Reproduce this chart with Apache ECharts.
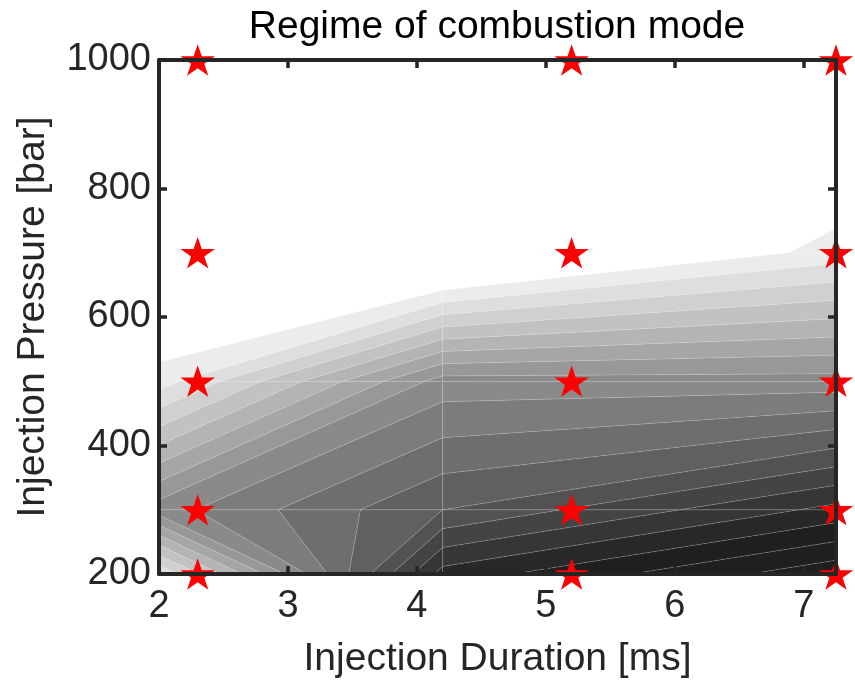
<!DOCTYPE html>
<html>
<head>
<meta charset="utf-8">
<script src="https://cdn.jsdelivr.net/npm/echarts@6/dist/echarts.min.js"></script>
<style>
html,body{margin:0;padding:0;background:#ffffff;}
#chart{width:855px;height:695px;}
</style>
</head>
<body>
<div id="chart"></div>
<script>
// ---- contour grid (injection duration [ms] x injection pressure [bar]) ----
const durationGrid = [2, 4.2, 7.25];
const pressureGrid = [200, 300, 500, 700, 1000];
// regime value at each grid node, one row per pressure
const regimeAt200  = [1.1, 14.4, 17.73];
const regimeAt300  = [7.55, 11.0, 14.31];
const regimeAt500  = [0.5, 7.43, 7.41];
const regimeAt700  = [-2.87, -3.05, 0.41];
const regimeAt1000 = [-6.0, -6.0, -2.8];
// contour levels
const contourLevels = [0, 1, 2, 3, 4, 5, 6, 7, 8, 9, 10, 11, 12, 13, 14, 15, 16, 17];
// fill gray per band (band k lies between level k and level k+1)
const bandGrays = ['#ececec', '#dedede', '#d0d0d0', '#c2c2c2', '#b4b4b4', '#a6a6a6',
                   '#989898', '#8a8a8a', '#7c7c7c', '#6e6e6e', '#606060', '#525252',
                   '#444444', '#363636', '#282828', '#1f1f1f', '#1f1f1f', '#1f1f1f'];
// measured operating points (stars)
const starDurations = [2.3, 5.2, 7.25];
const starPressures = [200, 300, 500, 700, 1000];

const titleText = 'Regime of combustion mode';
const xName = 'Injection Duration [ms]';
const yName = 'Injection Pressure [bar]';

// ---- build filled-contour polygons from the grid ----
const regimeGrid = [regimeAt200, regimeAt300, regimeAt500, regimeAt700, regimeAt1000];

function clipPoly(poly, lev, keepAbove) {
  const out = [];
  for (let i = 0; i < poly.length; i++) {
    const a = poly[i], b = poly[(i + 1) % poly.length];
    const ina = keepAbove ? a[2] >= lev : a[2] <= lev;
    const inb = keepAbove ? b[2] >= lev : b[2] <= lev;
    if (ina) out.push(a);
    if (ina !== inb) {
      const t = (lev - a[2]) / (b[2] - a[2]);
      out.push([a[0] + t * (b[0] - a[0]), a[1] + t * (b[1] - a[1]), lev]);
    }
  }
  return out;
}

const polygons = [];
for (let j = 0; j < pressureGrid.length - 1; j++) {
  for (let i = 0; i < durationGrid.length - 1; i++) {
    const quad = [
      [durationGrid[i],     pressureGrid[j],     regimeGrid[j][i]],
      [durationGrid[i + 1], pressureGrid[j],     regimeGrid[j][i + 1]],
      [durationGrid[i + 1], pressureGrid[j + 1], regimeGrid[j + 1][i + 1]],
      [durationGrid[i],     pressureGrid[j + 1], regimeGrid[j + 1][i]]
    ];
    for (let k = 0; k < contourLevels.length; k++) {
      let p = clipPoly(quad, contourLevels[k], true);
      if (k + 1 < contourLevels.length && p.length) p = clipPoly(p, contourLevels[k + 1], false);
      if (p.length >= 3) polygons.push({ pts: p, color: bandGrays[k] });
    }
  }
}

const starData = [];
starDurations.forEach(d => starPressures.forEach(p => starData.push([d, p])));

const starPath = 'path://M50 0 L61.23 34.55 L97.55 34.55 L68.16 55.9 L79.39 90.45 L50 69.1 L20.61 90.45 L31.84 55.9 L2.45 34.55 L38.77 34.55 Z';

const font = '"Liberation Sans", Arial, Helvetica, sans-serif';
const ink = '#262626';

const axisCommon = {
  type: 'value',
  z: 10,
  axisLine: { show: true, onZero: false, lineStyle: { color: ink, width: 4 } },
  axisTick: { show: true, inside: true, length: 8, lineStyle: { color: ink, width: 3.5 } },
  splitLine: { show: false }
};

const chart = echarts.init(document.getElementById('chart'), null, { renderer: 'canvas' });
chart.setOption({
  backgroundColor: '#ffffff',
  animation: false,
  title: {
    text: titleText,
    left: 497, top: 8, padding: 0,
    textAlign: 'center',
    textStyle: { fontFamily: font, fontSize: 39, fontWeight: 'normal', color: '#000000' }
  },
  grid: { left: 159, right: 19, top: 60, bottom: 121, containLabel: false },
  xAxis: [
    Object.assign({}, axisCommon, {
      position: 'bottom', min: 2, max: 7.25, interval: 1,
      axisLabel: { show: true, showMaxLabel: false, margin: 14, fontSize: 38, color: ink, fontFamily: font,
                   formatter: v => String(v) },
      name: xName, nameLocation: 'middle', nameGap: 66,
      nameTextStyle: { fontSize: 39, color: ink, fontFamily: font }
    }),
    Object.assign({}, axisCommon, {
      position: 'top', min: 2, max: 7.25, interval: 1,
      axisLabel: { show: false }
    })
  ],
  yAxis: [
    Object.assign({}, axisCommon, {
      position: 'left', min: 200, max: 1000, interval: 200,
      axisLabel: { show: true, margin: 8, fontSize: 38, color: ink, fontFamily: font,
                   formatter: v => String(v) },
      name: yName, nameLocation: 'middle', nameGap: 106,
      nameTextStyle: { fontSize: 39, color: ink, fontFamily: font }
    }),
    Object.assign({}, axisCommon, {
      position: 'right', min: 200, max: 1000, interval: 200,
      axisLabel: { show: false }
    })
  ],
  series: [
    {
      type: 'custom',
      coordinateSystem: 'cartesian2d',
      xAxisIndex: 0, yAxisIndex: 0,
      z: 2,
      clip: true,
      silent: true,
      data: polygons.map((p, i) => [p.pts[0][0], p.pts[0][1], i]),
      renderItem: function (params, api) {
        const poly = polygons[params.dataIndex];
        const pts = poly.pts.map(q => api.coord([q[0], q[1]]));
        return {
          type: 'polygon',
          shape: { points: pts },
          style: { fill: poly.color, stroke: 'rgba(255,255,255,0.22)', lineWidth: 0.6 }
        };
      }
    },
    {
      type: 'scatter',
      xAxisIndex: 0, yAxisIndex: 0,
      z: 5,
      clip: false,
      symbol: starPath,
      symbolKeepAspect: true,
      symbolSize: [34.5, 33],
      itemStyle: { color: '#ff0000', opacity: 1 },
      data: starData
    }
  ]
});
</script>
</body>
</html>
